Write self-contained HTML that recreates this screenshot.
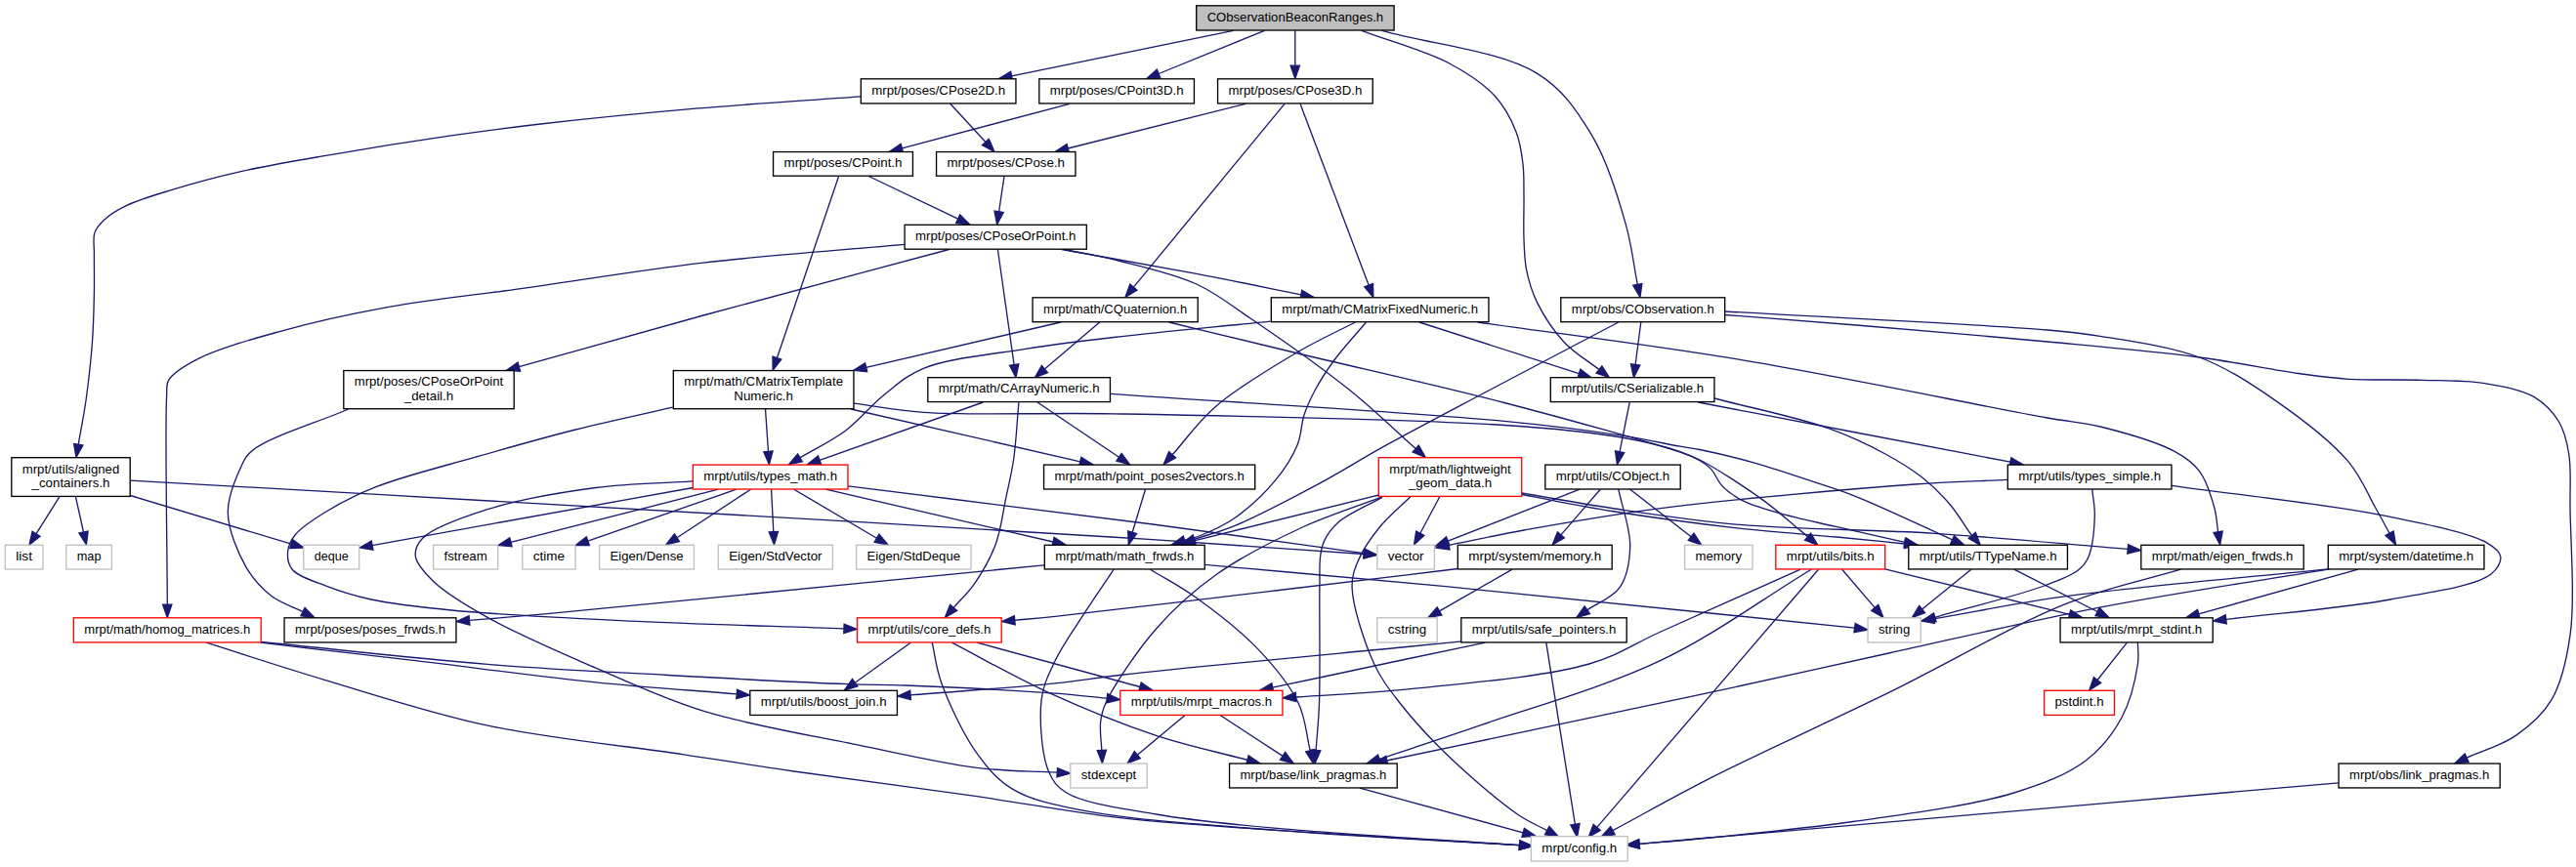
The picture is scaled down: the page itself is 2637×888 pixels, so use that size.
<!DOCTYPE html>
<html><head><meta charset="utf-8"><title>CObservationBeaconRanges.h</title>
<style>html,body{margin:0;padding:0;background:#fff;}body{width:2637px;height:888px;overflow:hidden;}svg{display:block;}text{font-family:"Liberation Sans",sans-serif;}</style>
</head><body>
<svg width="2637" height="888" viewBox="0 0 2637 888">
<rect width="2637" height="888" fill="#fff"/>
<g fill="none" stroke="#191970" stroke-width="1.33">
<path d="M1262.5,31.3L1035.6,77.8"/>
<path d="M1294.5,31.3L1186.1,75.5"/>
<path d="M1325.8,31.3L1325.8,67.2"/>
<path d="M1393.8,31.4C1423.8,42.6 1459.4,52.0 1483.8,65.0C1502.5,75.0 1518.3,85.3 1530.0,98.0C1540.2,109.1 1547.2,122.6 1552.0,135.0C1556.3,146.0 1557.7,157.0 1559.0,168.0C1560.3,178.7 1559.8,188.4 1560.0,200.0C1560.2,213.7 1559.4,231.3 1560.0,245.0C1560.5,256.6 1560.5,266.3 1562.7,276.9C1565.0,288.0 1568.1,298.9 1573.7,310.1C1580.3,323.4 1590.6,339.1 1601.4,350.7C1611.8,361.8 1625.1,369.2 1637.0,378.5"/>
<path d="M1414.6,31.4C1467.7,46.1 1536.6,52.2 1573.8,75.4C1600.2,91.8 1614.3,113.4 1629.0,137.6C1644.8,163.6 1655.7,199.8 1663.7,227.6C1670.3,250.4 1672.1,270.1 1676.3,291.4"/>
<path d="M881.0,98.8C824.7,102.9 768.0,106.4 712.2,111.2C657.3,116.0 595.3,122.2 549.1,127.5C514.9,131.5 492.1,134.5 460.0,139.2C422.2,144.7 374.9,152.2 336.8,158.8C303.8,164.5 272.9,169.6 244.5,176.1C219.7,181.7 195.9,188.3 175.3,194.6C158.3,199.8 141.6,204.6 129.2,210.7C119.9,215.3 111.7,220.4 106.1,225.7C101.9,229.7 98.6,233.3 96.9,238.4C94.9,244.4 96.5,251.7 96.4,260.0C96.3,271.3 96.7,285.9 96.4,300.0C96.1,315.7 95.8,332.6 94.5,350.0C93.1,369.1 90.6,391.4 88.0,410.0C85.7,426.2 82.8,440.2 80.2,455.3"/>
<path d="M972.8,106.3L1008.9,145.5"/>
<path d="M1094.9,106.3L923.4,151.9"/>
<path d="M1275.2,106.3L1093.2,152.0"/>
<path d="M1315.0,106.3L1160.4,294.2"/>
<path d="M1331.0,106.3L1401.1,292.0"/>
<path d="M889.3,180.5L980.7,224.2"/>
<path d="M858.6,180.5L795.4,366.7"/>
<path d="M1028.0,180.5L1022.6,216.8"/>
<path d="M925.8,250.4C857.2,256.6 786.7,261.3 720.0,269.1C656.6,276.5 592.3,287.3 535.1,295.4C485.7,302.4 440.2,306.8 396.8,314.7C357.7,321.8 320.1,330.1 286.1,339.6C256.2,347.9 223.3,356.9 203.0,367.3C189.7,374.1 177.3,381.5 172.6,389.4C169.5,394.7 171.1,397.3 170.6,406.0C168.8,437.0 171.0,548.1 171.3,619.2"/>
<path d="M971.5,255.5C887.7,278.0 797.8,301.7 720.0,323.0C652.5,341.5 594.2,358.1 531.3,375.7"/>
<path d="M1021.4,255.5L1038.1,373.6"/>
<path d="M1086.9,255.5C1132.9,263.8 1181.8,272.2 1224.8,280.4C1262.8,287.6 1296.2,294.7 1331.9,301.9"/>
<path d="M1089.5,255.5C1108.0,259.3 1124.9,261.9 1145.0,267.0C1169.3,273.2 1201.3,280.3 1224.8,291.0C1245.6,300.5 1259.0,311.8 1280.0,326.0C1309.1,345.7 1352.2,375.9 1382.2,400.0C1407.5,420.3 1426.9,439.7 1449.2,459.5"/>
<path d="M1085.9,330.0L886.7,376.3"/>
<path d="M1125.7,330.0L1069.4,378.1"/>
<path d="M1196.7,330.0C1240.1,340.5 1278.1,349.8 1326.8,361.5C1389.1,376.5 1472.1,394.8 1540.0,412.5C1602.7,428.8 1690.1,453.2 1720.0,463.2C1730.1,466.6 1731.7,466.8 1740.0,471.0C1755.3,478.7 1784.7,497.8 1802.3,510.4C1816.2,520.3 1829.2,531.9 1838.0,539.2C1843.3,543.5 1846.4,546.2 1850.6,549.7"/>
<path d="M1300.5,329.1C1247.0,334.6 1185.8,340.1 1140.0,345.5C1105.7,349.5 1081.1,352.4 1050.0,357.4C1016.3,362.8 971.2,366.7 945.3,377.3C928.0,384.4 918.4,393.7 905.5,403.9C891.8,414.8 880.1,430.2 865.7,441.0C851.3,451.8 834.5,459.6 818.9,468.9"/>
<path d="M1387.4,330.0C1367.2,340.5 1348.2,348.8 1326.8,361.5C1300.9,376.8 1266.1,397.5 1243.8,416.9C1225.7,432.6 1214.7,449.5 1200.1,465.8"/>
<path d="M1398.5,330.0C1387.3,343.3 1374.3,357.3 1365.0,370.0C1357.4,380.5 1351.2,390.3 1346.0,400.0C1341.5,408.5 1337.9,416.1 1335.0,425.0C1331.9,434.5 1332.4,445.2 1328.2,455.4C1323.4,467.3 1315.5,479.8 1306.0,491.4C1295.0,504.9 1278.3,520.4 1264.4,530.2C1252.9,538.3 1239.7,544.0 1230.0,548.0C1223.4,550.7 1218.5,551.7 1212.7,553.5"/>
<path d="M1452.9,330.0L1616.4,382.7"/>
<path d="M1512.8,330.0C1601.9,342.7 1687.4,352.8 1780.0,368.2C1881.1,385.0 2034.3,417.0 2096.0,428.0C2121.4,432.5 2130.7,432.2 2150.0,437.0C2173.4,442.8 2208.1,452.6 2226.1,462.4C2237.6,468.6 2244.9,473.9 2251.5,482.7C2258.9,492.6 2263.7,508.7 2266.8,520.0C2269.3,529.0 2269.3,536.5 2270.6,544.8"/>
<path d="M1679.8,330.0L1674.1,373.5"/>
<path d="M1656.8,330.0C1612.5,353.3 1565.5,378.0 1523.9,400.0C1487.1,419.5 1451.4,438.0 1420.0,455.4C1393.5,470.0 1372.7,483.4 1347.5,496.9C1320.9,511.1 1287.7,528.7 1264.4,538.3C1248.4,544.9 1236.6,547.6 1222.6,552.3"/>
<path d="M1766.0,319.0C1876.0,325.3 2032.7,332.4 2096.0,338.0C2121.7,340.3 2129.3,341.0 2150.0,344.4C2178.6,349.1 2220.9,354.4 2251.5,366.0C2279.6,376.7 2303.1,392.1 2327.7,409.1C2353.9,427.2 2385.8,451.4 2403.8,472.6C2417.2,488.4 2424.0,506.5 2431.7,520.0C2437.4,530.0 2441.3,537.5 2446.1,546.3"/>
<path d="M1766.0,322.5C1810.7,326.0 1851.1,329.0 1900.0,333.0C1959.2,337.9 2034.5,344.2 2096.0,350.0C2150.9,355.2 2205.3,359.9 2251.5,366.0C2289.0,371.0 2324.9,378.6 2353.0,382.5C2372.8,385.2 2385.1,387.1 2403.8,388.3C2426.6,389.7 2455.8,388.5 2480.0,389.3C2502.1,390.0 2523.6,389.4 2543.4,392.6C2561.4,395.5 2580.9,398.9 2594.2,406.6C2605.1,413.0 2613.6,422.2 2619.5,432.0C2625.3,441.7 2627.7,452.4 2629.7,465.0C2632.3,480.9 2630.7,497.8 2631.0,520.0C2631.4,554.3 2636.1,614.8 2631.0,650.7C2627.3,676.7 2622.5,698.9 2612.0,716.7C2602.9,732.1 2589.6,743.6 2575.4,753.4C2560.8,763.6 2541.9,768.6 2525.1,776.2"/>
<path d="M356.6,419.0C323.9,433.1 274.9,447.7 258.4,461.4C250.8,467.7 249.5,472.1 245.9,480.0C240.6,491.5 232.9,509.6 233.3,525.4C233.8,543.0 243.3,565.8 251.8,580.7C258.8,592.9 267.7,602.6 277.6,610.3C287.2,617.7 299.2,621.1 310.0,626.5"/>
<path d="M783.5,419.0L786.5,462.5"/>
<path d="M871.0,419.0L1105.8,472.8"/>
<path d="M688.7,417.1C655.6,424.7 622.6,431.6 589.3,440.0C555.3,448.6 520.9,458.4 486.8,468.2C452.6,478.0 412.2,487.8 384.3,498.9C363.9,507.0 347.7,515.4 333.1,524.5C321.1,532.0 308.3,539.9 302.0,548.0C297.6,553.6 295.1,559.2 294.6,565.0C294.1,570.8 294.9,577.9 299.0,583.0C304.9,590.4 320.6,595.0 333.1,599.9C347.3,605.5 362.0,610.1 380.0,614.0C403.4,619.1 429.3,621.8 462.2,625.0C511.4,629.8 582.7,633.0 646.7,636.1C716.1,639.4 791.5,641.3 863.9,643.9"/>
<path d="M874.2,413.1C897.9,416.2 915.7,420.4 945.3,422.4C994.1,425.8 1063.6,422.4 1140.0,423.8C1249.6,425.8 1445.7,429.2 1540.0,435.5C1591.8,438.9 1627.0,442.3 1660.0,448.0C1683.6,452.1 1705.5,457.7 1720.0,462.7C1728.6,465.7 1734.4,468.4 1740.0,471.7C1744.5,474.4 1748.0,476.6 1751.5,480.4C1755.8,484.9 1758.1,492.6 1763.0,497.7C1768.3,503.3 1774.7,507.9 1782.7,512.1C1793.0,517.5 1806.6,521.3 1820.7,525.4C1837.8,530.4 1858.1,534.5 1878.4,539.2C1901.0,544.4 1926.1,550.0 1950.0,555.4"/>
<path d="M1006.3,412.0L839.1,471.3"/>
<path d="M1062.0,412.0L1145.5,468.3"/>
<path d="M1042.9,412.0C1041.2,431.3 1040.2,452.5 1037.7,470.0C1035.6,484.6 1032.7,496.0 1029.8,509.8C1026.6,525.0 1024.7,542.7 1019.2,557.5C1013.9,571.8 1005.7,585.9 997.9,597.3C991.2,607.1 983.4,614.1 976.1,622.4"/>
<path d="M1136.8,403.3C1271.2,412.7 1445.2,422.3 1540.0,431.4C1591.8,436.4 1626.9,441.0 1660.0,446.1C1683.5,449.7 1705.3,454.6 1720.0,457.2C1728.4,458.7 1731.6,458.8 1740.0,460.5C1754.3,463.4 1778.6,469.2 1797.7,474.6C1817.0,480.1 1837.4,487.1 1855.4,493.1C1871.3,498.4 1882.4,501.6 1900.0,508.6C1926.6,519.2 1965.7,538.1 1998.5,552.8"/>
<path d="M1668.2,412.0L1658.1,462.7"/>
<path d="M1738.5,412.0C1792.3,422.3 1846.5,432.7 1900.0,443.0C1952.9,453.1 2005.3,463.2 2057.9,473.2"/>
<path d="M1755.2,408.0C1793.8,418.1 1839.2,427.2 1871.0,438.4C1894.4,446.7 1912.7,455.6 1930.0,465.0C1944.7,473.0 1957.5,480.8 1969.0,490.0C1979.6,498.5 1988.9,508.1 1997.0,517.7C2004.4,526.5 2012.5,540.4 2016.0,545.0C2017.3,546.7 2017.8,547.2 2018.7,548.3"/>
<path d="M61.0,508.7L37.1,546.7"/>
<path d="M77.4,508.7L85.5,545.0"/>
<path d="M133.5,507.5L298.1,557.2"/>
<path d="M133.5,492.1C382.3,506.3 686.9,523.3 880.0,534.6C1002.4,541.8 1088.2,546.8 1180.0,552.7C1258.0,557.7 1324.1,562.6 1396.2,567.5"/>
<path d="M709.5,499.5L381.1,558.6"/>
<path d="M735.3,501.2L522.9,555.3"/>
<path d="M753.8,501.2L601.8,554.2"/>
<path d="M768.5,501.2L693.0,550.7"/>
<path d="M789.6,501.2L791.8,544.7"/>
<path d="M812.8,501.2L897.5,551.2"/>
<path d="M845.4,501.2L1078.0,555.0"/>
<path d="M868.2,497.9C972.2,510.9 1085.6,524.6 1180.0,537.0C1258.7,547.3 1324.2,556.7 1396.3,566.6"/>
<path d="M709.0,492.9C675.9,495.1 643.6,495.0 609.8,499.5C573.8,504.3 530.8,511.6 499.1,521.7C473.6,529.8 443.4,540.1 432.7,551.2C427.1,557.0 424.5,563.2 425.3,569.7C426.3,577.8 434.9,586.9 443.7,595.5C456.5,607.9 476.9,619.9 499.1,632.4C529.2,649.3 572.7,668.0 609.8,684.1C646.5,700.0 679.7,715.8 720.6,728.4C768.4,743.1 830.6,753.2 880.0,763.4C922.8,772.2 963.7,781.9 1000.1,786.4C1029.9,790.1 1054.8,789.6 1082.2,791.2"/>
<path d="M1172.5,501.2L1159.2,545.2"/>
<path d="M1411.5,507.0L1222.4,553.8"/>
<path d="M1473.8,508.7L1453.8,546.2"/>
<path d="M1413.4,509.4C1386.7,519.6 1360.1,527.6 1333.3,540.0C1304.4,553.4 1271.8,569.6 1246.1,587.8C1222.5,604.5 1202.5,622.4 1183.8,643.8C1164.2,666.2 1140.0,702.3 1131.9,720.0C1128.1,728.4 1127.4,732.7 1126.6,740.0C1125.7,748.6 1127.4,759.0 1127.8,768.4"/>
<path d="M1415.0,509.4C1400.0,517.9 1380.3,525.9 1370.0,535.0C1362.9,541.3 1358.3,548.1 1355.3,554.6C1352.9,559.8 1352.4,564.0 1351.6,570.0C1350.5,578.3 1351.1,586.7 1350.9,600.0C1350.5,626.7 1351.6,688.9 1350.5,720.0C1349.8,739.8 1348.3,752.3 1347.1,768.5"/>
<path d="M1443.8,508.7C1433.3,519.1 1421.3,528.7 1412.2,540.0C1403.4,550.9 1394.7,563.7 1390.0,575.0C1386.2,584.3 1383.7,590.9 1384.1,602.3C1384.8,621.6 1397.0,658.9 1406.7,680.0C1414.2,696.2 1422.3,706.2 1433.0,720.0C1445.9,736.6 1462.0,754.3 1480.0,771.7C1501.2,792.2 1533.7,820.4 1553.4,834.0C1565.2,842.1 1573.6,845.1 1583.7,850.6"/>
<path d="M1558.0,506.5C1588.7,512.2 1616.6,518.2 1650.0,523.5C1689.7,529.9 1740.3,536.6 1781.0,541.2C1816.3,545.1 1849.9,547.2 1880.0,550.0C1905.3,552.4 1926.5,554.6 1949.7,557.0"/>
<path d="M1558.0,505.0C1588.7,510.2 1616.6,515.5 1650.0,520.5C1689.8,526.4 1732.7,533.2 1781.0,537.4C1840.3,542.5 1913.8,542.1 1980.0,546.3C2046.2,550.5 2112.1,557.0 2178.2,562.4"/>
<path d="M1617.0,501.2L1482.2,554.1"/>
<path d="M1638.2,501.2L1597.9,547.9"/>
<path d="M1668.7,501.2L1731.2,549.8"/>
<path d="M1656.8,501.2C1660.8,520.6 1669.1,541.4 1668.7,559.2C1668.4,574.5 1665.7,590.6 1658.1,601.6C1650.8,612.2 1635.9,617.1 1624.8,624.9"/>
<path d="M2055.0,491.4C2023.3,492.9 1999.4,493.2 1960.0,496.0C1894.7,500.7 1773.2,511.3 1700.0,520.6C1646.0,527.5 1599.7,535.9 1560.0,543.0C1530.5,548.3 1508.7,553.3 1483.1,558.4"/>
<path d="M2141.7,501.2C2142.6,510.3 2144.6,518.4 2144.3,528.5C2143.9,541.1 2142.0,561.2 2137.7,571.0C2135.0,577.2 2132.2,580.2 2127.0,584.3C2119.2,590.3 2107.6,594.4 2092.6,600.0C2066.3,609.8 2018.1,621.5 1980.8,632.3"/>
<path d="M2223.2,497.3C2296.2,507.7 2382.8,516.3 2442.0,528.4C2483.3,536.8 2528.1,545.7 2546.0,556.1C2553.6,560.5 2559.1,564.7 2559.8,570.0C2560.6,575.4 2556.7,582.9 2549.7,588.3C2533.9,600.4 2485.7,606.8 2447.0,614.0C2398.0,623.1 2334.8,627.6 2278.7,634.4"/>
<path d="M1069.0,578.8C1006.0,585.0 951.2,590.3 880.0,597.3C787.3,606.4 631.0,622.2 560.0,628.7C524.7,631.9 507.0,633.2 480.5,635.4"/>
<path d="M1233.5,578.4C1315.7,585.8 1387.0,591.8 1480.0,600.7C1601.2,612.3 1759.0,629.0 1898.6,643.1"/>
<path d="M1140.2,583.2C1129.9,598.6 1119.4,613.6 1109.4,629.2C1099.3,644.9 1087.4,661.4 1080.0,677.0C1073.6,690.5 1067.9,701.2 1066.1,716.7C1063.7,737.2 1066.4,773.4 1073.4,790.0C1077.8,800.4 1081.9,805.8 1091.8,812.0C1109.8,823.2 1150.3,828.1 1183.5,834.0C1222.1,840.8 1260.8,844.2 1310.0,848.7C1378.3,855.0 1473.7,860.0 1555.5,865.6"/>
<path d="M1177.6,583.2C1193.5,593.1 1208.8,600.8 1225.3,612.7C1245.2,627.0 1269.8,645.9 1287.6,664.6C1304.0,681.9 1320.2,701.2 1329.1,720.0C1336.7,736.0 1337.2,752.5 1341.2,768.8"/>
<path d="M1492.3,582.5C1474.9,584.6 1461.6,586.2 1440.0,588.8C1404.6,593.1 1351.9,599.5 1300.0,605.6C1234.9,613.3 1124.3,626.6 1080.0,631.3C1060.8,633.4 1052.5,634.0 1038.8,635.3"/>
<path d="M1548.0,583.2L1473.6,625.9"/>
<path d="M1885.7,583.2L1919.2,622.4"/>
<path d="M1929.7,582.8L2118.6,629.3"/>
<path d="M1843.1,583.2C1795.4,604.5 1739.9,629.2 1700.1,647.0C1671.6,659.8 1657.5,671.1 1626.8,680.0C1580.2,693.5 1497.8,700.0 1443.4,705.7C1400.2,710.3 1365.5,711.2 1326.5,714.0"/>
<path d="M1854.1,583.2C1802.8,614.3 1755.1,650.2 1700.1,676.4C1642.9,703.7 1569.4,724.1 1516.7,742.4C1477.0,756.2 1446.9,765.8 1412.0,777.5"/>
<path d="M1861.5,583.2L1634.8,847.4"/>
<path d="M2017.8,583.2L1967.6,624.1"/>
<path d="M2061.8,583.2L2147.1,626.5"/>
<path d="M2232.4,583.2C2193.9,594.7 2159.0,601.0 2116.8,617.7C2061.8,639.4 1994.7,679.4 1933.4,709.4C1872.4,739.3 1801.5,771.2 1750.0,797.4C1711.7,816.9 1684.0,832.9 1650.9,850.7"/>
<path d="M2383.0,582.8C2294.3,592.0 2190.8,600.3 2116.8,610.4C2063.4,617.7 2025.4,626.0 1979.6,633.8"/>
<path d="M2384.6,582.8C2307.6,595.7 2229.4,606.9 2153.5,621.4C2079.1,635.7 2003.4,653.7 1933.4,669.0C1869.5,683.0 1820.1,694.3 1750.0,709.4C1656.0,729.7 1529.8,755.8 1419.7,779.0"/>
<path d="M2414.0,583.2L2250.7,628.9"/>
<path d="M266.6,658.2C319.5,664.4 370.4,670.2 425.3,676.7C484.5,683.7 552.0,692.9 609.8,698.8C660.8,704.0 706.1,706.9 754.2,710.9"/>
<path d="M267.5,657.5C344.7,665.1 426.2,674.6 499.1,680.4C564.0,685.6 622.1,688.1 683.6,691.5C745.1,694.9 823.9,699.1 868.2,700.7C893.1,701.6 902.6,701.1 926.7,702.0C965.7,703.5 1042.1,707.4 1080.0,710.2C1102.4,711.9 1115.5,713.6 1133.2,715.2"/>
<path d="M211.2,658.2C251.5,670.9 288.6,683.3 332.2,696.3C383.1,711.4 439.8,730.4 498.3,742.9C561.9,756.5 642.5,764.2 700.0,772.8C743.0,779.3 770.4,783.9 812.8,790.0C867.3,797.9 941.5,807.3 1000.1,815.7C1052.0,823.2 1096.5,831.9 1146.8,837.7C1199.6,843.7 1250.0,846.4 1310.0,850.6C1383.5,855.8 1473.7,860.7 1555.5,865.7"/>
<path d="M932.2,658.2L875.2,699.2"/>
<path d="M1000.1,658.2L1166.9,703.5"/>
<path d="M974.4,658.2C1007.4,675.3 1039.1,693.7 1073.4,709.4C1108.7,725.5 1148.0,741.6 1183.5,753.4C1215.6,764.0 1245.8,770.0 1276.9,778.3"/>
<path d="M954.2,658.2C957.3,671.6 958.0,683.4 963.4,698.4C971.0,719.6 986.1,752.3 1000.1,771.7C1011.2,787.1 1021.0,799.0 1036.8,808.4C1056.0,819.9 1079.3,824.3 1110.1,830.4C1160.0,840.3 1239.9,844.9 1310.0,850.6C1387.6,856.9 1473.7,860.7 1555.5,865.7"/>
<path d="M1496.6,656.9C1477.7,658.8 1466.2,659.9 1440.0,662.5C1380.8,668.3 1213.7,683.8 1150.0,691.0C1118.7,694.5 1107.7,697.0 1080.0,699.9C1039.8,704.1 981.4,707.9 932.0,711.9"/>
<path d="M1520.4,658.2C1493.6,663.8 1470.4,668.6 1440.0,675.0C1400.3,683.4 1348.5,694.5 1302.7,704.2"/>
<path d="M1582.8,658.2L1612.4,844.3"/>
<path d="M2177.4,658.2L2147.1,696.5"/>
<path d="M2188.4,658.2C2188.4,665.5 2189.7,671.2 2188.4,680.0C2186.3,694.3 2180.8,718.5 2171.9,735.0C2163.0,751.5 2151.3,766.8 2135.2,779.0C2116.1,793.5 2091.9,802.7 2061.8,812.0C2018.4,825.4 1950.2,833.7 1896.7,841.5C1846.5,848.8 1790.3,853.9 1750.0,858.0C1721.8,860.8 1702.1,862.3 1678.1,864.4"/>
<path d="M1212.8,732.8L1164.3,773.2"/>
<path d="M1249.5,732.8L1313.1,774.4"/>
<path d="M1392.0,807.2L1559.1,852.8"/>
<path d="M2393.8,801.8C2179.2,820.5 1857.5,848.5 1750.0,858.0C1714.1,861.2 1702.1,862.3 1678.1,864.4"/>
</g>
<g fill="#191970" stroke="#191970" stroke-width="1.33" stroke-linejoin="miter">
<polygon points="1022.5,80.5 1034.6,73.2 1036.5,82.4"/>
<polygon points="1173.8,80.5 1184.3,71.1 1187.9,79.8"/>
<polygon points="1325.8,80.5 1321.1,67.2 1330.4,67.2"/>
<polygon points="1647.5,386.7 1634.1,382.2 1639.9,374.8"/>
<polygon points="1678.9,304.5 1671.7,292.3 1680.9,290.5"/>
<polygon points="78.0,468.4 75.6,454.5 84.9,456.0"/>
<polygon points="1017.9,155.3 1005.4,148.7 1012.3,142.3"/>
<polygon points="910.5,155.3 922.2,147.4 924.6,156.4"/>
<polygon points="1080.3,155.3 1092.1,147.5 1094.4,156.6"/>
<polygon points="1151.9,304.5 1156.8,291.2 1164.0,297.2"/>
<polygon points="1405.8,304.5 1396.7,293.7 1405.5,290.4"/>
<polygon points="992.7,230.0 978.7,228.5 982.7,220.0"/>
<polygon points="791.1,379.3 791.0,365.2 799.8,368.2"/>
<polygon points="1020.6,230.0 1018.0,216.1 1027.2,217.5"/>
<polygon points="171.3,632.5 166.6,619.2 175.9,619.2"/>
<polygon points="518.5,379.3 530.1,371.2 532.6,380.2"/>
<polygon points="1040.0,386.8 1033.5,374.2 1042.8,372.9"/>
<polygon points="1345.0,304.5 1331.0,306.5 1332.8,297.3"/>
<polygon points="1459.2,468.4 1446.1,463.0 1452.3,456.1"/>
<polygon points="873.7,379.3 885.6,371.7 887.7,380.8"/>
<polygon points="1059.3,386.8 1066.4,374.5 1072.5,381.6"/>
<polygon points="1860.8,558.3 1847.6,553.3 1853.6,546.2"/>
<polygon points="807.5,475.8 816.6,464.9 821.3,472.9"/>
<polygon points="1191.2,475.8 1196.6,462.7 1203.6,468.9"/>
<polygon points="1200.0,557.5 1211.3,549.0 1214.1,557.9"/>
<polygon points="1629.1,386.8 1615.0,387.1 1617.8,378.2"/>
<polygon points="2272.6,558.0 2266.0,545.5 2275.2,544.1"/>
<polygon points="1672.4,386.8 1669.5,372.9 1678.8,374.1"/>
<polygon points="1210.0,556.5 1221.2,547.8 1224.1,556.7"/>
<polygon points="2452.5,558.0 2442.0,548.5 2450.2,544.1"/>
<polygon points="2513.0,781.8 2523.2,772.0 2527.1,780.5"/>
<polygon points="321.9,632.5 307.9,630.7 312.1,622.4"/>
<polygon points="787.4,475.8 781.8,462.8 791.1,462.1"/>
<polygon points="1118.8,475.8 1104.8,477.3 1106.8,468.2"/>
<polygon points="877.2,644.4 863.8,648.6 864.1,639.3"/>
<polygon points="1963.0,558.3 1949.0,559.9 1951.0,550.8"/>
<polygon points="826.5,475.8 837.5,466.9 840.6,475.7"/>
<polygon points="1156.6,475.8 1142.9,472.2 1148.2,464.4"/>
<polygon points="967.4,632.5 972.6,619.4 979.7,625.5"/>
<polygon points="2010.7,558.3 1996.6,557.1 2000.5,548.6"/>
<polygon points="1655.5,475.8 1653.5,461.8 1662.7,463.6"/>
<polygon points="2071.0,475.8 2057.0,477.8 2058.8,468.7"/>
<polygon points="2027.3,558.5 2015.2,551.3 2022.3,545.3"/>
<polygon points="30.0,558.0 33.1,544.2 41.0,549.2"/>
<polygon points="88.4,558.0 80.9,546.0 90.1,544.0"/>
<polygon points="310.9,561.0 296.8,561.6 299.5,552.7"/>
<polygon points="1409.5,568.4 1395.9,572.1 1396.5,562.8"/>
<polygon points="368.0,561.0 380.3,554.0 381.9,563.2"/>
<polygon points="510.0,558.6 521.8,550.8 524.1,559.8"/>
<polygon points="589.2,558.6 600.3,549.8 603.4,558.6"/>
<polygon points="681.8,558.0 690.4,546.8 695.5,554.6"/>
<polygon points="792.5,558.0 787.2,544.9 796.5,544.4"/>
<polygon points="909.0,558.0 895.1,555.2 899.9,547.2"/>
<polygon points="1091.0,558.0 1077.0,559.5 1079.1,550.4"/>
<polygon points="1409.5,568.4 1395.7,571.2 1396.9,562.0"/>
<polygon points="1095.5,792.0 1081.9,795.9 1082.5,786.6"/>
<polygon points="1155.3,558.0 1154.7,543.9 1163.6,546.6"/>
<polygon points="1209.5,557.0 1221.3,549.3 1223.6,558.3"/>
<polygon points="1447.5,558.0 1449.7,544.0 1457.9,548.4"/>
<polygon points="1128.4,781.8 1123.2,768.6 1132.5,768.2"/>
<polygon points="1346.2,781.8 1342.5,768.1 1351.8,768.8"/>
<polygon points="1595.4,857.0 1581.5,854.7 1586.0,846.5"/>
<polygon points="1963.0,558.3 1949.3,561.6 1950.2,552.3"/>
<polygon points="2191.5,563.5 2177.8,567.1 2178.6,557.8"/>
<polygon points="1469.8,559.0 1480.5,549.8 1483.9,558.5"/>
<polygon points="1589.2,558.0 1594.4,544.9 1601.4,551.0"/>
<polygon points="1741.7,558.0 1728.3,553.5 1734.0,546.1"/>
<polygon points="1613.9,632.5 1622.1,621.0 1627.5,628.7"/>
<polygon points="1470.0,561.0 1482.2,553.8 1484.0,563.0"/>
<polygon points="1968.0,636.0 1979.5,627.8 1982.1,636.8"/>
<polygon points="2265.5,636.0 2278.2,629.8 2279.3,639.0"/>
<polygon points="467.2,636.5 480.1,630.7 480.9,640.0"/>
<polygon points="1911.8,645.0 1897.9,647.7 1899.2,638.5"/>
<polygon points="1568.8,866.5 1555.2,870.2 1555.8,860.9"/>
<polygon points="1344.4,781.8 1336.7,769.9 1345.7,767.7"/>
<polygon points="1025.5,636.6 1038.3,630.7 1039.2,640.0"/>
<polygon points="1462.0,632.5 1471.2,621.8 1475.9,629.9"/>
<polygon points="1927.9,632.5 1915.7,625.4 1922.8,619.3"/>
<polygon points="2131.5,632.5 2117.4,633.8 2119.7,624.8"/>
<polygon points="1313.2,714.9 1326.2,709.3 1326.9,718.6"/>
<polygon points="1399.4,781.8 1410.6,773.1 1413.5,781.9"/>
<polygon points="1626.1,857.5 1631.2,844.3 1638.3,850.4"/>
<polygon points="1957.3,632.5 1964.7,620.5 1970.6,627.7"/>
<polygon points="2159.0,632.5 2145.0,630.6 2149.2,622.3"/>
<polygon points="1639.2,857.0 1648.7,846.6 1653.2,854.8"/>
<polygon points="1966.5,636.0 1978.9,629.2 1980.4,638.4"/>
<polygon points="1406.7,781.8 1418.8,774.4 1420.7,783.6"/>
<polygon points="2237.9,632.5 2249.5,624.4 2252.0,633.4"/>
<polygon points="767.5,712.0 753.8,715.5 754.6,706.2"/>
<polygon points="1146.5,716.5 1132.8,719.9 1133.7,710.6"/>
<polygon points="1568.8,866.5 1555.2,870.3 1555.8,861.0"/>
<polygon points="864.4,707.0 872.5,695.4 877.9,703.0"/>
<polygon points="1179.8,707.0 1165.7,708.0 1168.2,699.0"/>
<polygon points="1289.8,781.8 1275.7,782.8 1278.1,773.8"/>
<polygon points="1568.8,866.5 1555.2,870.3 1555.8,861.0"/>
<polygon points="918.8,713.0 931.7,707.3 932.4,716.6"/>
<polygon points="1289.7,707.0 1301.8,699.7 1303.7,708.8"/>
<polygon points="1614.5,857.5 1607.8,845.1 1617.0,843.6"/>
<polygon points="2138.8,707.0 2143.4,693.7 2150.7,699.4"/>
<polygon points="1664.8,865.6 1677.7,859.8 1678.5,869.1"/>
<polygon points="1154.1,781.8 1161.3,769.6 1167.3,776.8"/>
<polygon points="1324.2,781.8 1310.5,778.3 1315.6,770.5"/>
<polygon points="1572.0,856.3 1557.9,857.3 1560.4,848.3"/>
<polygon points="1664.8,865.6 1677.7,859.8 1678.5,869.1"/>
</g>
<g font-family="Liberation Sans, sans-serif" font-size="13.33" text-anchor="middle" fill="#000">
<rect x="1224.70" y="5.80" width="202.40" height="25.20" fill="#bfbfbf" stroke="#000" stroke-width="1.33"/>
<text x="1325.90" y="21.70" textLength="180.5" lengthAdjust="spacingAndGlyphs">CObservationBeaconRanges.h</text>
<rect x="881.30" y="80.80" width="158.65" height="25.15" fill="#fff" stroke="#000" stroke-width="1.33"/>
<text x="960.62" y="96.67" textLength="136.8" lengthAdjust="spacingAndGlyphs">mrpt/poses/CPose2D.h</text>
<rect x="1063.80" y="80.80" width="158.65" height="25.15" fill="#fff" stroke="#000" stroke-width="1.33"/>
<text x="1143.12" y="96.67" textLength="136.8" lengthAdjust="spacingAndGlyphs">mrpt/poses/CPoint3D.h</text>
<rect x="1246.55" y="80.80" width="158.65" height="25.15" fill="#fff" stroke="#000" stroke-width="1.33"/>
<text x="1325.88" y="96.67" textLength="136.8" lengthAdjust="spacingAndGlyphs">mrpt/poses/CPose3D.h</text>
<rect x="791.55" y="155.55" width="142.90" height="24.65" fill="#fff" stroke="#000" stroke-width="1.33"/>
<text x="863.00" y="171.18" textLength="121.0" lengthAdjust="spacingAndGlyphs">mrpt/poses/CPoint.h</text>
<rect x="958.55" y="155.55" width="142.40" height="24.65" fill="#fff" stroke="#000" stroke-width="1.33"/>
<text x="1029.75" y="171.18" textLength="120.5" lengthAdjust="spacingAndGlyphs">mrpt/poses/CPose.h</text>
<rect x="926.10" y="230.30" width="186.20" height="24.90" fill="#fff" stroke="#000" stroke-width="1.33"/>
<text x="1019.20" y="246.05" textLength="164.3" lengthAdjust="spacingAndGlyphs">mrpt/poses/CPoseOrPoint.h</text>
<rect x="1057.05" y="304.80" width="169.15" height="24.90" fill="#fff" stroke="#000" stroke-width="1.33"/>
<text x="1141.62" y="320.55" textLength="147.2" lengthAdjust="spacingAndGlyphs">mrpt/math/CQuaternion.h</text>
<rect x="1301.30" y="304.80" width="222.65" height="24.90" fill="#fff" stroke="#000" stroke-width="1.33"/>
<text x="1412.62" y="320.55" textLength="200.8" lengthAdjust="spacingAndGlyphs">mrpt/math/CMatrixFixedNumeric.h</text>
<rect x="1597.80" y="304.80" width="167.90" height="24.90" fill="#fff" stroke="#000" stroke-width="1.33"/>
<text x="1681.75" y="320.55" textLength="146.0" lengthAdjust="spacingAndGlyphs">mrpt/obs/CObservation.h</text>
<rect x="351.80" y="379.55" width="174.40" height="39.15" fill="#fff" stroke="#000" stroke-width="1.33"/>
<text x="439.00" y="395.18" textLength="152.5" lengthAdjust="spacingAndGlyphs">mrpt/poses/CPoseOrPoint</text>
<text x="439.00" y="409.57">_detail.h</text>
<rect x="689.30" y="379.55" width="184.65" height="39.15" fill="#fff" stroke="#000" stroke-width="1.33"/>
<text x="781.62" y="395.18" textLength="162.8" lengthAdjust="spacingAndGlyphs">mrpt/math/CMatrixTemplate</text>
<text x="781.62" y="409.57">Numeric.h</text>
<rect x="949.80" y="386.68" width="186.65" height="24.90" fill="#fff" stroke="#000" stroke-width="1.33"/>
<text x="1043.12" y="402.43" textLength="164.8" lengthAdjust="spacingAndGlyphs">mrpt/math/CArrayNumeric.h</text>
<rect x="1587.30" y="386.68" width="167.65" height="24.90" fill="#fff" stroke="#000" stroke-width="1.33"/>
<text x="1671.12" y="402.43" textLength="145.8" lengthAdjust="spacingAndGlyphs">mrpt/utils/CSerializable.h</text>
<rect x="11.80" y="468.70" width="121.40" height="39.70" fill="#fff" stroke="#000" stroke-width="1.33"/>
<text x="72.50" y="484.60" textLength="99.5" lengthAdjust="spacingAndGlyphs">mrpt/utils/aligned</text>
<text x="72.50" y="499.00">_containers.h</text>
<rect x="709.30" y="476.10" width="158.65" height="24.90" fill="#fff" stroke="#ff0000" stroke-width="1.33"/>
<text x="788.62" y="491.85" textLength="136.8" lengthAdjust="spacingAndGlyphs">mrpt/utils/types_math.h</text>
<rect x="1068.55" y="476.10" width="216.15" height="24.90" fill="#fff" stroke="#000" stroke-width="1.33"/>
<text x="1176.62" y="491.85" textLength="194.2" lengthAdjust="spacingAndGlyphs">mrpt/math/point_poses2vectors.h</text>
<rect x="1411.30" y="468.70" width="146.40" height="39.70" fill="#fff" stroke="#ff0000" stroke-width="1.33"/>
<text x="1484.50" y="484.60" textLength="124.5" lengthAdjust="spacingAndGlyphs">mrpt/math/lightweight</text>
<text x="1484.50" y="499.00">_geom_data.h</text>
<rect x="1581.80" y="476.10" width="138.40" height="24.90" fill="#fff" stroke="#000" stroke-width="1.33"/>
<text x="1651.00" y="491.85" textLength="116.5" lengthAdjust="spacingAndGlyphs">mrpt/utils/CObject.h</text>
<rect x="2055.30" y="476.10" width="167.65" height="24.90" fill="#fff" stroke="#000" stroke-width="1.33"/>
<text x="2139.12" y="491.85" textLength="145.8" lengthAdjust="spacingAndGlyphs">mrpt/utils/types_simple.h</text>
<rect x="5.30" y="558.30" width="38.65" height="24.65" fill="#fff" stroke="#bfbfbf" stroke-width="1.33"/>
<text x="24.62" y="573.92" textLength="16.8" lengthAdjust="spacingAndGlyphs">list</text>
<rect x="67.80" y="558.30" width="46.65" height="24.65" fill="#fff" stroke="#bfbfbf" stroke-width="1.33"/>
<text x="91.12" y="573.92" textLength="24.8" lengthAdjust="spacingAndGlyphs">map</text>
<rect x="310.80" y="558.30" width="56.90" height="24.65" fill="#fff" stroke="#bfbfbf" stroke-width="1.33"/>
<text x="339.25" y="573.92" textLength="35.0" lengthAdjust="spacingAndGlyphs">deque</text>
<rect x="443.55" y="558.30" width="66.15" height="24.65" fill="#fff" stroke="#bfbfbf" stroke-width="1.33"/>
<text x="476.62" y="573.92" textLength="44.2" lengthAdjust="spacingAndGlyphs">fstream</text>
<rect x="534.80" y="558.30" width="54.15" height="24.65" fill="#fff" stroke="#bfbfbf" stroke-width="1.33"/>
<text x="561.88" y="573.92" textLength="32.2" lengthAdjust="spacingAndGlyphs">ctime</text>
<rect x="613.55" y="558.30" width="96.90" height="24.65" fill="#fff" stroke="#bfbfbf" stroke-width="1.33"/>
<text x="662.00" y="573.92" textLength="75.0" lengthAdjust="spacingAndGlyphs">Eigen/Dense</text>
<rect x="735.30" y="558.30" width="117.15" height="24.65" fill="#fff" stroke="#bfbfbf" stroke-width="1.33"/>
<text x="793.88" y="573.92" textLength="95.2" lengthAdjust="spacingAndGlyphs">Eigen/StdVector</text>
<rect x="876.55" y="558.30" width="117.40" height="24.65" fill="#fff" stroke="#bfbfbf" stroke-width="1.33"/>
<text x="935.25" y="573.92" textLength="95.5" lengthAdjust="spacingAndGlyphs">Eigen/StdDeque</text>
<rect x="1069.30" y="558.30" width="163.90" height="24.65" fill="#fff" stroke="#000" stroke-width="1.33"/>
<text x="1151.25" y="573.92" textLength="142.0" lengthAdjust="spacingAndGlyphs">mrpt/math/math_frwds.h</text>
<rect x="1409.80" y="558.30" width="58.65" height="24.65" fill="#fff" stroke="#bfbfbf" stroke-width="1.33"/>
<text x="1439.12" y="573.92" textLength="36.8" lengthAdjust="spacingAndGlyphs">vector</text>
<rect x="1492.30" y="558.30" width="157.90" height="24.65" fill="#fff" stroke="#000" stroke-width="1.33"/>
<text x="1571.25" y="573.92" textLength="136.0" lengthAdjust="spacingAndGlyphs">mrpt/system/memory.h</text>
<rect x="1724.55" y="558.30" width="69.40" height="24.65" fill="#fff" stroke="#bfbfbf" stroke-width="1.33"/>
<text x="1759.25" y="573.92" textLength="47.5" lengthAdjust="spacingAndGlyphs">memory</text>
<rect x="1817.80" y="558.30" width="111.90" height="24.65" fill="#fff" stroke="#ff0000" stroke-width="1.33"/>
<text x="1873.75" y="573.92" textLength="90.0" lengthAdjust="spacingAndGlyphs">mrpt/utils/bits.h</text>
<rect x="1953.80" y="558.30" width="162.65" height="24.65" fill="#fff" stroke="#000" stroke-width="1.33"/>
<text x="2035.12" y="573.92" textLength="140.8" lengthAdjust="spacingAndGlyphs">mrpt/utils/TTypeName.h</text>
<rect x="2191.80" y="558.30" width="166.40" height="24.65" fill="#fff" stroke="#000" stroke-width="1.33"/>
<text x="2275.00" y="573.92" textLength="144.5" lengthAdjust="spacingAndGlyphs">mrpt/math/eigen_frwds.h</text>
<rect x="2383.30" y="558.30" width="159.65" height="24.65" fill="#fff" stroke="#000" stroke-width="1.33"/>
<text x="2463.12" y="573.92" textLength="137.8" lengthAdjust="spacingAndGlyphs">mrpt/system/datetime.h</text>
<rect x="75.30" y="632.80" width="191.90" height="25.15" fill="#fff" stroke="#ff0000" stroke-width="1.33"/>
<text x="171.25" y="648.67" textLength="170.0" lengthAdjust="spacingAndGlyphs">mrpt/math/homog_matrices.h</text>
<rect x="291.05" y="632.80" width="175.90" height="25.15" fill="#fff" stroke="#000" stroke-width="1.33"/>
<text x="379.00" y="648.67" textLength="154.0" lengthAdjust="spacingAndGlyphs">mrpt/poses/poses_frwds.h</text>
<rect x="877.55" y="632.80" width="147.65" height="25.15" fill="#fff" stroke="#ff0000" stroke-width="1.33"/>
<text x="951.38" y="648.67" textLength="125.8" lengthAdjust="spacingAndGlyphs">mrpt/utils/core_defs.h</text>
<rect x="1409.80" y="632.80" width="61.40" height="25.15" fill="#fff" stroke="#bfbfbf" stroke-width="1.33"/>
<text x="1440.50" y="648.67" textLength="39.5" lengthAdjust="spacingAndGlyphs">cstring</text>
<rect x="1495.80" y="632.80" width="169.40" height="25.15" fill="#fff" stroke="#000" stroke-width="1.33"/>
<text x="1580.50" y="648.67" textLength="147.5" lengthAdjust="spacingAndGlyphs">mrpt/utils/safe_pointers.h</text>
<rect x="1912.05" y="632.80" width="54.15" height="25.15" fill="#fff" stroke="#bfbfbf" stroke-width="1.33"/>
<text x="1939.12" y="648.67" textLength="32.2" lengthAdjust="spacingAndGlyphs">string</text>
<rect x="2109.05" y="632.80" width="156.15" height="25.15" fill="#fff" stroke="#000" stroke-width="1.33"/>
<text x="2187.12" y="648.67" textLength="134.2" lengthAdjust="spacingAndGlyphs">mrpt/utils/mrpt_stdint.h</text>
<rect x="767.80" y="707.30" width="150.65" height="25.15" fill="#fff" stroke="#000" stroke-width="1.33"/>
<text x="843.12" y="723.17" textLength="128.8" lengthAdjust="spacingAndGlyphs">mrpt/utils/boost_join.h</text>
<rect x="1146.80" y="707.30" width="166.15" height="25.15" fill="#fff" stroke="#ff0000" stroke-width="1.33"/>
<text x="1229.88" y="723.17" textLength="144.2" lengthAdjust="spacingAndGlyphs">mrpt/utils/mrpt_macros.h</text>
<rect x="2092.55" y="707.30" width="71.90" height="25.15" fill="#fff" stroke="#ff0000" stroke-width="1.33"/>
<text x="2128.50" y="723.17" textLength="50.0" lengthAdjust="spacingAndGlyphs">pstdint.h</text>
<rect x="1095.80" y="782.05" width="78.40" height="24.90" fill="#fff" stroke="#bfbfbf" stroke-width="1.33"/>
<text x="1135.00" y="797.80" textLength="56.5" lengthAdjust="spacingAndGlyphs">stdexcept</text>
<rect x="1258.55" y="782.05" width="171.65" height="24.90" fill="#fff" stroke="#000" stroke-width="1.33"/>
<text x="1344.38" y="797.80" textLength="149.8" lengthAdjust="spacingAndGlyphs">mrpt/base/link_pragmas.h</text>
<rect x="2394.05" y="782.05" width="165.15" height="24.90" fill="#fff" stroke="#000" stroke-width="1.33"/>
<text x="2476.62" y="797.80" textLength="143.2" lengthAdjust="spacingAndGlyphs">mrpt/obs/link_pragmas.h</text>
<rect x="1567.40" y="856.60" width="98.80" height="25.40" fill="#fff" stroke="#bfbfbf" stroke-width="1.33"/>
<text x="1616.80" y="872.60" textLength="76.9" lengthAdjust="spacingAndGlyphs">mrpt/config.h</text>
</g>
</svg>
</body></html>
